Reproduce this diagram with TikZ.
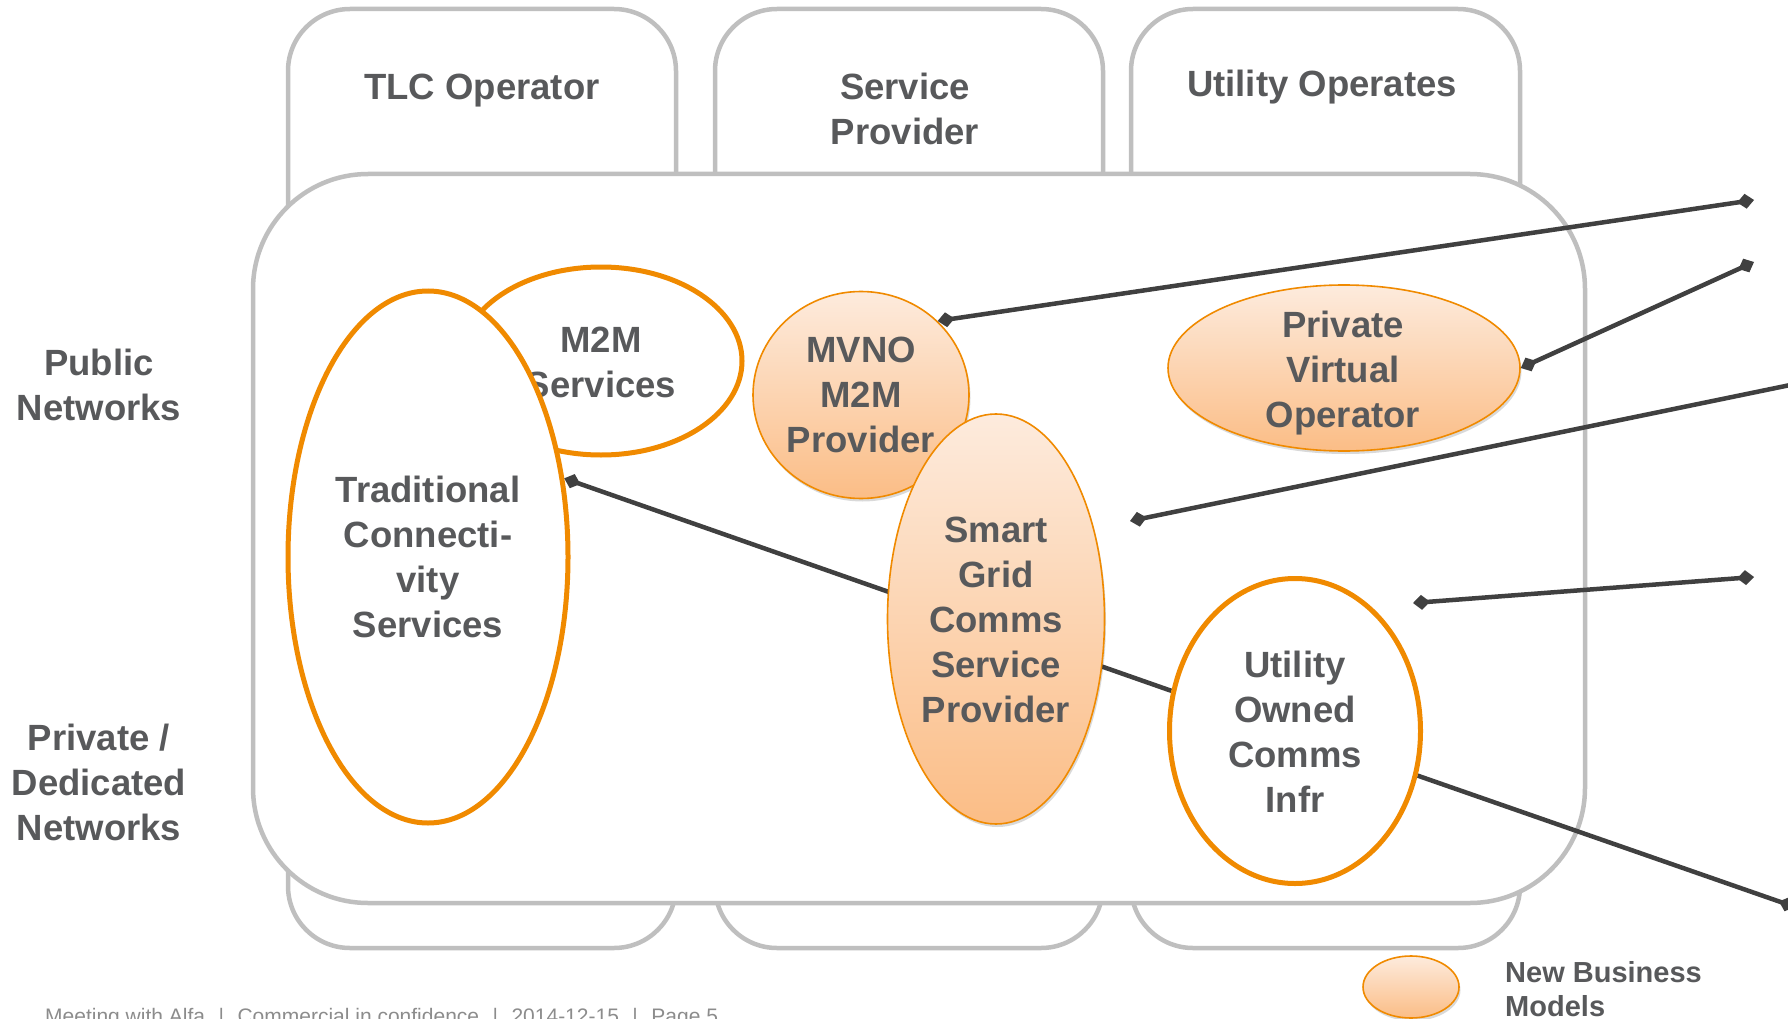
\documentclass[tikz,border=0pt]{standalone}
\usepackage{fontspec}
\setmainfont{Liberation Sans}
\usetikzlibrary{arrows.meta,shapes.geometric,shadows}

\definecolor{frame}{HTML}{BFBFBF}
\definecolor{ink}{HTML}{58595B}
\definecolor{wire}{HTML}{404040}
\definecolor{amber}{HTML}{F08A00}
\definecolor{peachtop}{HTML}{FDEBDD}
\definecolor{peachbot}{HTML}{FBBD86}
\definecolor{footgray}{HTML}{8C8C8C}

\pgfdeclarelayer{back}
\pgfdeclarelayer{mid}
\pgfsetlayers{back,mid,main}

\begin{document}
\begin{tikzpicture}[x=1pt,y=-1pt,
  lane/.style={rectangle, draw=frame, line width=4.5pt, fill=white,
    rounded corners=62pt, inner sep=0pt},
  oldmodel/.style={ellipse, draw=amber, line width=5pt, fill=white, inner sep=0pt},
  newmodel/.style={ellipse, draw=amber, line width=1.6pt, top color=peachtop,
    bottom color=peachbot, inner sep=0pt,
    drop shadow={shadow xshift=1.5pt, shadow yshift=-3pt, opacity=0.15, fill=black}},
  lbl/.style={text=ink, font=\fontsize{36.5}{45}\selectfont\bfseries,
    align=center, inner sep=0pt},
  legendtxt/.style={text=ink, font=\fontsize{29}{34}\selectfont\bfseries,
    align=left, inner sep=0pt},
  foot/.style={text=footgray, font=\fontsize{21}{25}\selectfont, inner sep=0pt},
  link/.style={draw=wire, line width=4.5pt},
  >={Diamond[length=17pt,width=15pt]}
]
\useasboundingbox (0,0) rectangle (1788,1019);

\begin{pgfonlayer}{back}
  % three operator lanes
  \node[lane, minimum width=388pt, minimum height=939pt] (tlc) at (482,478.5) {};
  \node[lane, minimum width=388pt, minimum height=939pt] (sprov) at (909,478.5) {};
  \node[lane, minimum width=389pt, minimum height=939pt] (uops) at (1325.5,478.5) {};
  % network area across the lanes
  \node[lane, rounded corners=115pt, minimum width=1332pt, minimum height=729pt]
    (net) at (919,538.5) {};
  % traditional business models
  \node[oldmodel, minimum width=282pt, minimum height=188pt] (m2m) at (601,361) {};
  \node[lbl] (m2mt) at (601,362) {M2M\\Services};
  \node[oldmodel, minimum width=280pt, minimum height=532pt] (trad) at (428,557) {};
  \node[lbl] (tradt) at (428,557) {Traditional\\Connecti-\\vity\\Services};
\end{pgfonlayer}

% lane headings
\node[lbl, anchor=base] (tlct) at (482,100) {TLC Operator};
\node[lbl] (sprovt) at (905,109) {Service\\Provider};
\node[lbl, anchor=base] (uopst) at (1322,97) {Utility Operates};

% row headings
\node[lbl] (pubt) at (99,385) {Public\\Networks};
\node[lbl] (privt) at (99,782) {Private /\\Dedicated\\Networks};

% new and owned business models
\node[newmodel, minimum width=216pt, minimum height=207pt] (mvno) at (861,395) {};
\node[lbl] (mvnot) at (861,395) {MVNO\\M2M\\Provider};
\node[newmodel, minimum width=217pt, minimum height=410pt] (smart) at (996,619) {};
\node[lbl] (smartt) at (996,620) {Smart\\Grid\\Comms\\Service\\Provider};
\node[oldmodel, minimum width=251pt, minimum height=305pt] (util) at (1295,731) {};
\node[lbl] (utilt) at (1295,732) {Utility\\Owned\\Comms\\Infr};
\node[newmodel, minimum width=352pt, minimum height=166pt] (pvo) at (1344,368) {};
\node[lbl] (pvot) at (1343,373) {Private\\Virtual\\Operator};

% legend
\node[newmodel, minimum width=96pt, minimum height=62pt] (key) at (1411,987) {};
\node[legendtxt, anchor=west] (keyt) at (1505,989) {New Business\\Models};

% footer
\node[foot, anchor=base west] (footer) at (45,1023)
  {Meeting with Alfa\hspace{13.5pt}|\hspace{13.5pt}Commercial in confidence\hspace{13.5pt}|\hspace{13.5pt}2014-12-15\hspace{13.5pt}|\hspace{13.5pt}Page 5};

% free ends of the connectors
\coordinate (e1) at (1754,200);
\coordinate (e2) at (1754,262);
\coordinate (s3) at (1130,521);
\coordinate (e3) at (1800,383);
\coordinate (s4) at (1413,603);
\coordinate (e4) at (1754,577);
\coordinate (e6) at (1795,907);

% connectors running behind the owned models
\begin{pgfonlayer}{mid}
  \draw[link, <-] (trad.30) -- (util.162);
  \draw[link, ->] (util.-20) -- (e6);
\end{pgfonlayer}

% connectors on top
\draw[link, <->] (mvno.44) -- (e1);
\draw[link, <->] (pvo.east) -- (e2);
\draw[link, <-] (s3) -- (e3);
\draw[link, <->] (s4) -- (e4);
\end{tikzpicture}
\end{document}
